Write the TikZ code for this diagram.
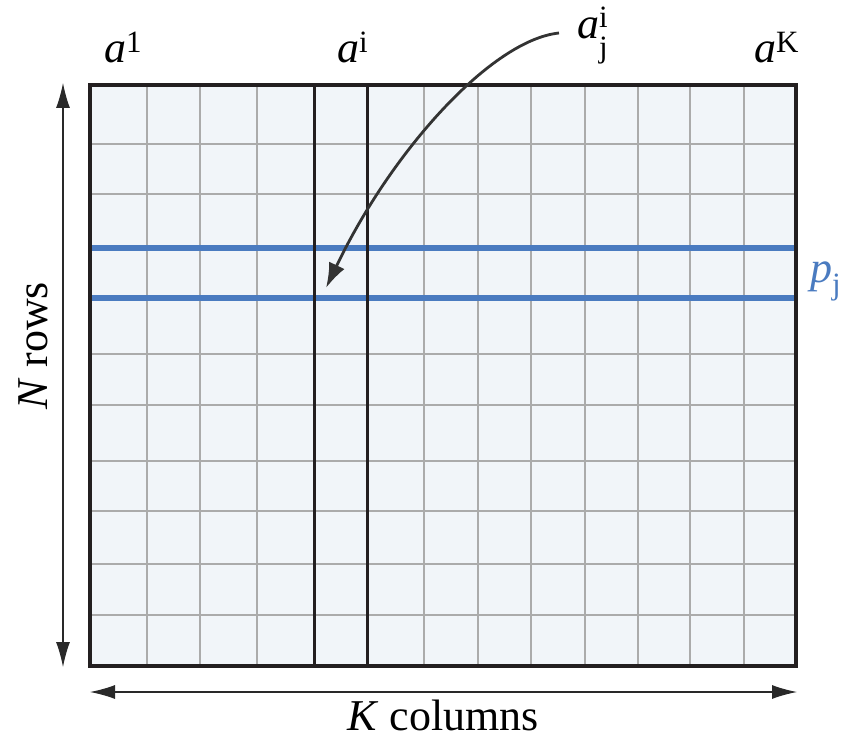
\documentclass[tikz,border=0pt]{standalone}
\usepackage{fontspec}
\setmainfont{Liberation Serif}
\newfontfamily\timesfont{Liberation Serif}
\usetikzlibrary{arrows.meta}
\definecolor{gridfill}{HTML}{F1F5F9}
\definecolor{gridgray}{HTML}{ABABAB}
\definecolor{framecol}{HTML}{231F20}
\definecolor{rowblue}{HTML}{4A7BC0}
\definecolor{arrowcol}{HTML}{333333}
\newcommand\idxfont{\fontsize{31}{31}\selectfont}
\newcommand\upidx[1]{\raisebox{10pt}{\idxfont #1}}
\tikzset{
  gridline/.style={draw=gridgray, line width=1.3pt},
  rowline/.style={draw=rowblue, line width=5.5pt},
  colline/.style={draw=framecol, line width=3pt},
  frameline/.style={draw=framecol, line width=3.6pt},
  dimarrow/.style={draw=arrowcol!80!black, line width=1.2pt, {Latex[length=25pt,width=14pt]}-{Latex[length=25pt,width=14pt]}},
  callout/.style={draw=arrowcol, line width=2.8pt, -{Latex[length=25pt,width=17pt]}},
  biglabel/.style={inner sep=0pt, font=\timesfont\fontsize{44}{44}\selectfont},
}
\begin{document}
\begin{tikzpicture}[x=1pt,y=-1pt]
\useasboundingbox (0,0) rectangle (846,738);
% grid
\fill[gridfill] (90,85) rectangle (796,666);
\foreach \x in {147,200,257,424,478,531,585,638,690,744}
  \draw[gridline] (\x,85) -- (\x,666);
\foreach \y in {144,194,354,405,461,511,564,615}
  \draw[gridline] (90,\y) -- (796,\y);
\draw[rowline] (90,248) -- (796,248);
\draw[rowline] (90,298) -- (796,298);
\draw[colline] (314,85) -- (314,666);
\draw[colline] (367,85) -- (367,666);
\draw[frameline] (90,85) rectangle (796,666);
% labels
\node[biglabel, anchor=base west] (a1) at (104,63) {\textit{a}\upidx{1}};
\node[biglabel, anchor=base west] (ai) at (337,63) {\textit{a}\upidx{i}};
\node[biglabel, anchor=base west] (aK) at (754,63) {\textit{a}\upidx{K}};
\node[biglabel, anchor=base west] (aij) at (577,39)
  {\textit{a}\rlap{\raisebox{11pt}{\idxfont i}}\raisebox{-19pt}{\idxfont j}};
\node[biglabel, anchor=base west, text=rowblue] (pj) at (810,282)
  {\textit{p}\raisebox{-13pt}{\idxfont j}};
\node[biglabel, anchor=base, rotate=90] (nrows) at (47,346) {\textit{N} rows};
\node[biglabel, anchor=base] (kcols) at (443,730) {\textit{K} columns};
% dimension arrows
\coordinate (vtop) at (63,83);
\coordinate (vbot) at (63,667);
\coordinate (hleft) at (90,692);
\coordinate (hright) at (797,692);
\draw[dimarrow] (vtop) -- (vbot);
\draw[dimarrow] (hleft) -- (hright);
% callout arrow
\coordinate (cstart) at (559,33);
\coordinate (ctip) at (326,288);
\draw[callout] (cstart) .. controls (492,40) and (392,150) .. (ctip);
\end{tikzpicture}
\end{document}
